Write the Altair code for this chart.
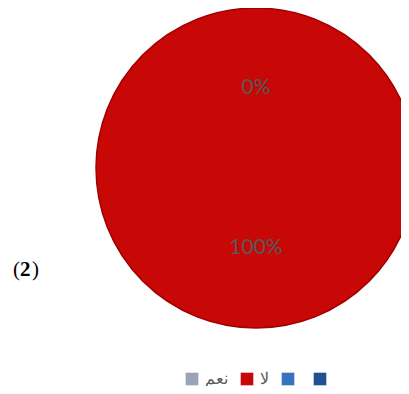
import altair as alt
import pandas as pd

categories = ["نعم", "لا"]
values = [0, 100]
pct_labels = ["0%", "100%"]
slice_order = [0, 1]
legend_domain = ["نعم", "لا", "s3", "s4"]
legend_colors = ["#9AA4B8", "#C80707", "#3A72C2", "#23518F"]
fig_parts = ["(", "2", ")"]
fig_bold = [False, True, False]

df = pd.DataFrame({"cat": categories, "value": values, "label": pct_labels, "order": slice_order})

CX, CY, R = 248, 160, 160

color = alt.Color(
    "cat:N",
    scale=alt.Scale(domain=legend_domain, range=legend_colors),
    sort=legend_domain,
    legend=alt.Legend(
        orient="none", legendX=176, legendY=363, direction="horizontal",
        title=None, symbolType="square", symbolSize=160, symbolStrokeWidth=0,
        labelExpr="datum.label == 's3' || datum.label == 's4' ? '' : datum.label",
        labelFont="Liberation Sans", labelFontSize=16, labelColor="#595959",
        columnPadding=11, labelOffset=5,
    ),
)

base = alt.Chart(df).encode(
    theta=alt.Theta("value:Q", stack=True),
    order=alt.Order("order:Q"),
)

pie = base.mark_arc(radius=R, strokeWidth=1.5).encode(
    color=color,
    stroke=alt.condition("datum.value > 0", alt.value("#A30000"), alt.value("transparent")),
    x=alt.value(CX), y=alt.value(CY),
)

labels = base.mark_text(radius=80, font="Lato", fontSize=21, color="#595959").encode(
    text="label:N", x=alt.value(CX), y=alt.value(CY),
)

fdf = pd.DataFrame({"t": fig_parts, "b": fig_bold, "px": [5, 12, 24]})
fig_layers = []
for bold in (False, True):
    fig_layers.append(
        alt.Chart(fdf).transform_filter(alt.datum.b == bold).mark_text(
            font="Liberation Serif", fontSize=21, align="left", baseline="middle",
            color="#000000", fontWeight="bold" if bold else "normal",
        ).encode(
            text="t:N",
            x=alt.X("px:Q", scale=None),
            y=alt.value(262),
        )
    )

chart = alt.layer(pie, labels, *fig_layers).properties(
    width=393, height=378, padding=0, autosize=alt.AutoSizeParams(type="none"),
    background="white",
).configure_view(stroke=None)

chart.save("out.html", embed_options={"renderer": "svg", "actions": False})
